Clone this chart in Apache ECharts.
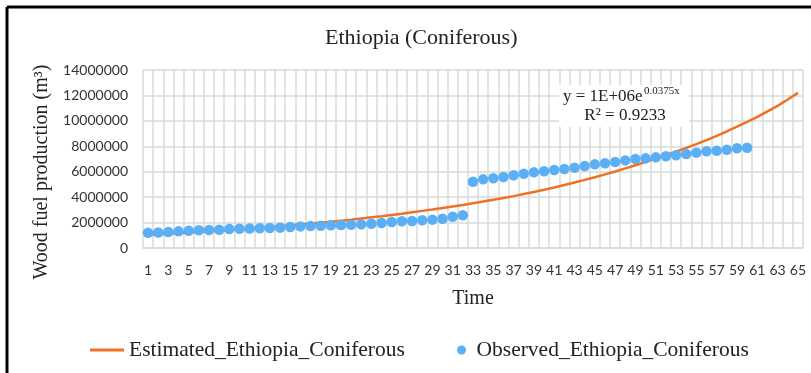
<!DOCTYPE html>
<html>
<head>
<meta charset="utf-8">
<script src="https://cdn.jsdelivr.net/npm/echarts@6/dist/echarts.min.js"></script>
<style>
  html, body { margin: 0; padding: 0; background: #ffffff; }
  #chart { width: 811px; height: 373px; }
</style>
</head>
<body>
<div id="chart"></div>
<script>
// Time steps 1..65
const timeSteps = [];
for (let t = 1; t <= 65; t++) timeSteps.push(String(t));

// Observed wood fuel production (m3), steps 1..60
const observed = [
  1200000, 1220000, 1260000, 1310000, 1360000, 1390000, 1420000, 1440000, 1490000, 1520000,
  1530000, 1550000, 1570000, 1600000, 1650000, 1700000, 1730000, 1750000, 1790000, 1810000,
  1830000, 1860000, 1910000, 1970000, 2050000, 2100000, 2120000, 2180000, 2230000, 2300000,
  2460000, 2570000, 5210000, 5400000, 5480000, 5580000, 5720000, 5840000, 5950000, 6030000,
  6130000, 6210000, 6320000, 6450000, 6580000, 6660000, 6760000, 6890000, 7000000, 7050000,
  7130000, 7210000, 7290000, 7390000, 7500000, 7610000, 7650000, 7730000, 7840000, 7890000
];

// Exponential trend estimate, steps 1..65
const estimated = [
  1040000, 1080000, 1120000, 1170000, 1210000, 1260000, 1310000, 1360000, 1410000, 1470000,
  1520000, 1580000, 1650000, 1710000, 1780000, 1850000, 1920000, 1990000, 2070000, 2150000,
  2230000, 2320000, 2410000, 2500000, 2600000, 2700000, 2810000, 2920000, 3030000, 3150000,
  3270000, 3390000, 3520000, 3650000, 3790000, 3930000, 4080000, 4240000, 4410000, 4580000,
  4760000, 4950000, 5150000, 5360000, 5570000, 5790000, 6020000, 6260000, 6510000, 6770000,
  7030000, 7300000, 7580000, 7870000, 8170000, 8490000, 8820000, 9170000, 9540000, 9920000,
  10320000, 10740000, 11180000, 11680000, 12200000
];

const yTicks = { min: 0, max: 14000000, interval: 2000000 };

const seriesNames = ['Estimated_Ethiopia_Coniferous', 'Observed_Ethiopia_Coniferous'];

const serif = '"Liberation Serif", "DejaVu Serif", serif';
const sans = 'Lato, "Liberation Sans", sans-serif';
const gridColor = '#d6dbd8';

const chart = echarts.init(document.getElementById('chart'), null, { renderer: 'canvas' });

chart.setOption({
  animation: false,
  backgroundColor: '#ffffff',
  title: {
    text: 'Ethiopia (Coniferous)',
    left: 325,
    top: 27,
    padding: 0,
    textStyle: { fontFamily: serif, fontSize: 22, fontWeight: 'normal', color: '#222' }
  },
  grid: { left: 143, right: 8, top: 70, bottom: 125, containLabel: false },
  legend: [
    {
      data: [{ name: seriesNames[0], icon: 'rect' }],
      left: 90, top: 339,
      itemWidth: 34, itemHeight: 3, padding: 0,
      textStyle: { fontFamily: serif, fontSize: 21.5, color: '#222' }
    },
    {
      data: [{ name: seriesNames[1], icon: 'circle' }],
      left: 457, top: 339,
      itemWidth: 20, itemHeight: 9, padding: 0,
      textStyle: { fontFamily: serif, fontSize: 21.5, color: '#222' }
    }
  ],
  xAxis: {
    type: 'category',
    data: timeSteps,
    boundaryGap: true,
    name: 'Time',
    nameLocation: 'middle',
    nameGap: 41,
    nameTextStyle: { fontFamily: serif, fontSize: 20, color: '#222' },
    axisLine: { show: true, lineStyle: { color: gridColor, width: 1.5 } },
    axisTick: { show: false },
    axisLabel: {
      interval: 1, margin: 15,
      fontFamily: sans, fontSize: 14, color: '#333'
    },
    splitLine: { show: true, interval: 0, lineStyle: { color: gridColor, width: 1.5 } }
  },
  yAxis: {
    type: 'value',
    min: yTicks.min, max: yTicks.max, interval: yTicks.interval,
    axisLine: { show: false },
    axisTick: { show: false },
    axisLabel: {
      margin: 15, fontFamily: sans, fontSize: 14, color: '#333',
      formatter: v => String(v)
    },
    splitLine: { show: true, lineStyle: { color: gridColor, width: 1.5 } }
  },
  series: [
    {
      name: seriesNames[0],
      type: 'line',
      data: estimated,
      symbol: 'none',
      smooth: false,
      lineStyle: { color: '#f07025', width: 2.5 },
      itemStyle: { color: '#f07025' },
      z: 2
    },
    {
      name: seriesNames[1],
      type: 'scatter',
      data: observed,
      symbol: 'circle',
      symbolSize: 10.5,
      itemStyle: { color: '#5aaff5', opacity: 1 },
      z: 3
    }
  ],
  graphic: [
    // frame edges
    { type: 'line', shape: { x1: 7, y1: 7, x2: 811, y2: 7 }, style: { stroke: '#000', lineWidth: 3 }, silent: true },
    { type: 'line', shape: { x1: 7, y1: 7, x2: 7, y2: 373 }, style: { stroke: '#000', lineWidth: 3 }, silent: true },
    // vertical axis title
    {
      type: 'text', x: 42, y: 172, rotation: Math.PI / 2,
      style: {
        text: 'Wood fuel production (m³)', fontFamily: serif, fontSize: 20, fill: '#222',
        align: 'center', verticalAlign: 'middle'
      }
    },
    // trend equation on a white label box
    {
      type: 'rect', shape: { x: 559, y: 85, width: 130, height: 42 },
      style: { fill: '#ffffff' }, z: 100
    },
    {
      type: 'text', x: 563, y: 97, z: 101,
      style: { text: 'y = 1E+06e', fontFamily: serif, fontSize: 17, fill: '#222', align: 'left', verticalAlign: 'middle' }
    },
    {
      type: 'text', x: 644, y: 91, z: 101,
      style: { text: '0.0375x', fontFamily: serif, fontSize: 11, fill: '#222', align: 'left', verticalAlign: 'middle' }
    },
    {
      type: 'text', x: 625, y: 116, z: 101,
      style: { text: 'R² = 0.9233', fontFamily: serif, fontSize: 17, fill: '#222', align: 'center', verticalAlign: 'middle' }
    }
  ]
});
</script>
</body>
</html>
